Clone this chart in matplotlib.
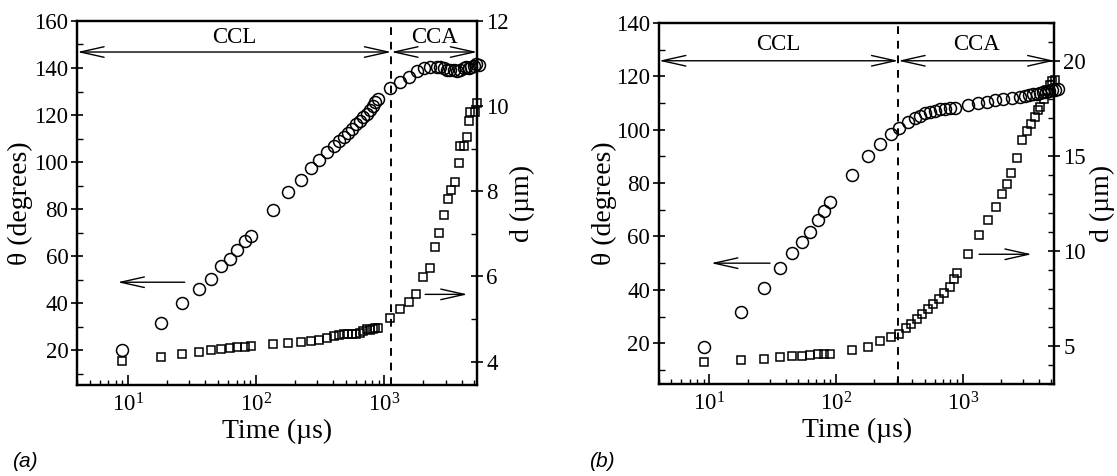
import matplotlib
matplotlib.use("Agg")
import matplotlib.pyplot as plt
from matplotlib.ticker import MultipleLocator, LogLocator, LogFormatterSciNotation, NullFormatter

plt.rcParams['font.family'] = ['Liberation Serif', 'DejaVu Serif']
plt.rcParams['mathtext.fontset'] = 'custom'
plt.rcParams['mathtext.rm'] = 'Liberation Serif'
plt.rcParams['mathtext.it'] = 'Liberation Serif:italic'

# ---------------- panel (a) ----------------
a_theta_t = [9.0, 17.9, 26.4, 35.6, 44, 52.7, 62, 70.8, 81, 91.6,
             134, 178, 223, 268, 310, 354, 406, 445, 484, 523, 562, 600,
             645, 685, 728, 773, 811, 851, 887,
             1110, 1329, 1542, 1795, 2020, 2278, 2553,
             2729, 2897, 3078, 3266, 3467, 3687, 3910, 4150, 4357, 4542,
             4742, 4966, 5188, 5433]
a_theta = [20.0, 31.6, 40.0, 46.1, 50.5, 55.8, 59.0, 62.8, 66.3, 68.5,
           79.8, 87.2, 92.3, 97.5, 100.8, 104.3, 106.9, 108.9, 110.7, 112.4,
           114.3, 116.1, 117.5, 119.2, 120.6, 122.3, 123.7, 125.6, 127.0,
           131.3, 134.1, 136.2, 138.7, 139.8, 140.4, 140.4,
           140.4, 139.8, 139.3, 139.0, 139.3, 138.7, 139.0, 139.8, 140.4,
           139.9, 140.6, 141.0, 141.6, 141.4]

a_d_t = [9.0, 17.9, 26.4, 35.6, 44, 52.7, 62, 70.8, 81, 91.6,
         134, 178, 223, 268, 310, 354, 406, 445, 484, 523, 562, 600,
         645, 685, 728, 773, 811, 851, 887,
         1110, 1329, 1542, 1770, 1994, 2255, 2480, 2650, 2900, 3160,
         3330, 3570, 3800, 3900, 4150, 4450, 4600, 4650, 5130, 5290]
a_d = [4.02, 4.12, 4.17, 4.23, 4.27, 4.29, 4.32, 4.34, 4.35, 4.36,
       4.42, 4.43, 4.45, 4.49, 4.52, 4.56, 4.60, 4.62, 4.64, 4.64,
       4.65, 4.66, 4.67, 4.71, 4.77, 4.75, 4.77, 4.78, 4.78,
       5.02, 5.23, 5.41, 5.60, 5.99, 6.21, 6.70, 7.01, 7.44, 7.83,
       8.04, 8.22, 8.67, 9.07, 9.07, 9.28, 9.65, 9.87, 9.87, 10.08]

a_split = 1130

# ---------------- panel (b) ----------------
b_theta_t = [9.0, 17.9, 26.8, 35.9, 44.8, 53.7, 62.5, 71.6, 80.2, 90.3,
             133, 180, 224, 269, 315, 372, 421, 461, 504, 552, 604, 662,
             725, 794, 869, 1107, 1327, 1548, 1800, 2090, 2437,
             2832, 3103, 3337, 3589, 3859, 4074, 4301, 4541, 4794, 5061,
             5344, 5648]
b_theta = [18.5, 31.6, 40.8, 48.1, 53.7, 58.0, 61.8, 66.2, 69.6, 72.8,
           83.0, 90.1, 94.6, 98.3, 100.8, 102.9, 104.2, 105.1, 106.1, 106.7,
           107.1, 107.6, 107.8, 108.0, 108.2, 109.2, 110.0, 110.4, 111.0,
           111.6, 112.0, 112.4, 112.6, 112.9, 113.2, 113.5, 113.7, 114.0,
           114.2, 114.5, 114.7, 115.0, 115.2]

b_d_t = [9.0, 17.9, 26.8, 35.9, 44.8, 53.7, 62.5, 71.6, 80.2, 90.3,
         133, 180, 224, 269, 315, 355, 392, 434, 481, 532, 587, 650,
         718, 793, 848, 894, 1094, 1335, 1574, 1820, 2031, 2225, 2405,
         2667, 2922, 3200, 3442, 3723, 3909, 4075, 4381, 4600, 4886,
         5070, 5340]
b_d = [4.16, 4.28, 4.34, 4.41, 4.46, 4.49, 4.55, 4.58, 4.58, 4.58,
       4.81, 4.97, 5.25, 5.47, 5.62, 5.97, 6.18, 6.44, 6.70, 6.93,
       7.19, 7.49, 7.81, 8.11, 8.55, 8.84, 9.86, 10.83, 11.62, 12.32,
       12.98, 13.55, 14.11, 14.89, 15.83, 16.30, 16.67, 17.05, 17.41,
       17.58, 17.97, 18.46, 18.72, 18.93, 18.98]

b_split = 310

time_lim = (4.0, 5300)


def style_axis(ax, twin, theta_lim, theta_major, d_lim, d_major, d_minor):
    ax.set_xscale('log')
    ax.set_xlim(*time_lim)
    ax.set_ylim(*theta_lim)
    twin.set_ylim(*d_lim)
    ax.xaxis.set_major_locator(LogLocator(base=10))
    ax.xaxis.set_major_formatter(LogFormatterSciNotation())
    ax.xaxis.set_minor_locator(LogLocator(base=10, subs=range(2, 10)))
    ax.xaxis.set_minor_formatter(NullFormatter())
    ax.yaxis.set_major_locator(MultipleLocator(theta_major))
    ax.yaxis.set_minor_locator(MultipleLocator(10))
    twin.yaxis.set_major_locator(MultipleLocator(d_major))
    twin.yaxis.set_minor_locator(MultipleLocator(d_minor))
    ax.tick_params(axis='x', which='major', direction='in', length=7, width=1.2,
                   labelsize=16.5, pad=6, top=False)
    ax.tick_params(axis='x', which='minor', direction='in', length=3.5, width=1.0, top=False)
    ax.tick_params(axis='y', which='major', direction='inout', length=9, width=1.2,
                   labelsize=16.5, pad=2, right=False)
    ax.tick_params(axis='y', which='minor', direction='in', length=4, width=1.0, right=False)
    twin.tick_params(axis='y', which='major', direction='inout', length=9, width=1.2,
                     labelsize=16.5, pad=2)
    twin.tick_params(axis='y', which='minor', direction='in', length=4, width=1.0)
    for a in (ax, twin):
        for sp in a.spines.values():
            sp.set_linewidth(1.6)
    ax.set_xlabel('Time (µs)', fontsize=20, labelpad=0)
    ax.set_ylabel('θ (degrees)', fontsize=20)
    twin.set_ylabel('d (µm)', fontsize=20)


def draw_panel(ax, twin, th_t, th, d_t, d, split, arrow_theta, label_theta,
               left_arrow, right_arrow):
    ax.plot(th_t, th, linestyle='none', marker='o', ms=8.6, mfc='none',
            mec='black', mew=1.1, clip_on=False, zorder=3)
    twin.plot(d_t, d, linestyle='none', marker='s', ms=6.4, mfc='none',
              mec='black', mew=1.1, clip_on=False, zorder=3)
    ax.axvline(split, color='black', lw=1.4, linestyle=(0, (4, 3.5)), zorder=1)

    both = dict(arrowstyle='<->,head_length=1.7,head_width=0.38', lw=1.0,
                color='black', shrinkA=0, shrinkB=0, mutation_scale=10)
    ax.annotate('', xy=(0, arrow_theta), xytext=(split, arrow_theta),
                xycoords=('axes fraction', 'data'), textcoords='data', arrowprops=both)
    ax.annotate('', xy=(1, arrow_theta), xytext=(split, arrow_theta),
                xycoords=('axes fraction', 'data'), textcoords='data', arrowprops=both)
    lo, hi = time_lim
    ax.text((lo * split) ** 0.5, label_theta, 'CCL', ha='center', va='center', fontsize=16.5)
    ax.text((hi * split) ** 0.5, label_theta, 'CCA', ha='center', va='center', fontsize=16.5)

    one = dict(arrowstyle='->,head_length=1.7,head_width=0.38', lw=1.0,
               color='black', shrinkA=0, shrinkB=0, mutation_scale=10)
    (x0, x1, y) = left_arrow
    ax.annotate('', xy=(x1, y), xytext=(x0, y), arrowprops=one)
    (x0, x1, y) = right_arrow
    twin.annotate('', xy=(x1, y), xytext=(x0, y), arrowprops=one)


fig = plt.figure(figsize=(11.17, 4.76), dpi=100)
ax_a = fig.add_axes([0.0692, 0.191, 0.358, 0.765])
tw_a = ax_a.twinx()
ax_b = fig.add_axes([0.590, 0.193, 0.354, 0.759])
tw_b = ax_b.twinx()

style_axis(ax_a, tw_a, (5.3, 160), 20, (3.45, 12), 2, 1)
style_axis(ax_b, tw_b, (4.7, 140), 20, (3.0, 22), 5, 1)

draw_panel(ax_a, tw_a, a_theta_t, a_theta, a_d_t, a_d, a_split,
           146.8, 152.8, (27.6, 8.25, 49.0), (2080, 4460, 5.58))
draw_panel(ax_b, tw_b, b_theta_t, b_theta, b_d_t, b_d, b_split,
           125.8, 131.8, (30.1, 10.3, 50.0), (1345, 3510, 9.83))

ax_a.yaxis.set_label_coords(-0.111, 0.5)
ax_b.yaxis.set_label_coords(-0.106, 0.5)
for ax in (ax_a, ax_b):
    ax.xaxis.set_label_coords(0.5, -0.092)
tw_a.yaxis.set_label_coords(1.082, 0.5)
tw_b.yaxis.set_label_coords(1.089, 0.5)

fig.text(0.011, 0.018, '(a)', fontsize=15, style='italic', family='Liberation Sans')
fig.text(0.527, 0.018, '(b)', fontsize=15, style='italic', family='Liberation Sans')

fig.savefig('out.png', dpi=100, facecolor='white')
